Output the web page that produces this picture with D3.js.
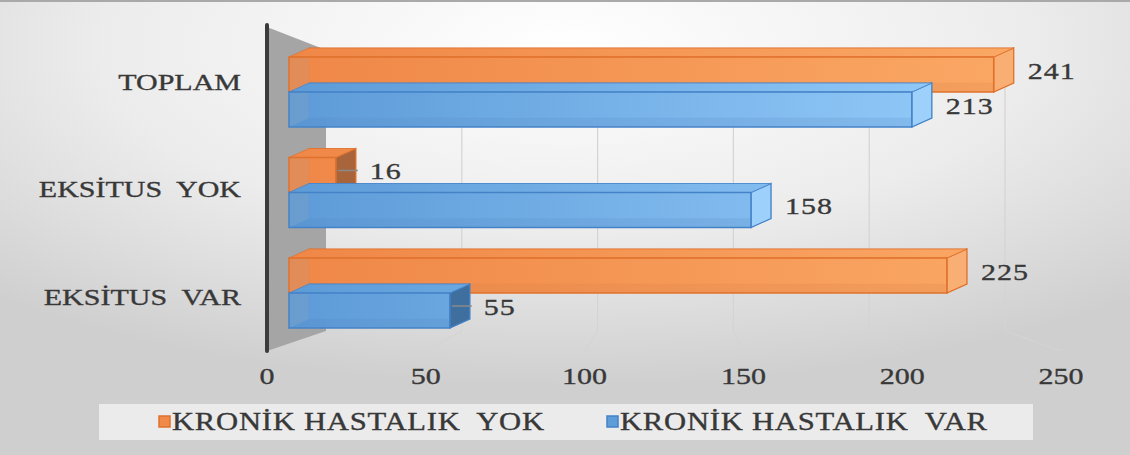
<!DOCTYPE html>
<html>
<head>
<meta charset="utf-8">
<script src="https://cdn.jsdelivr.net/npm/d3@7"></script>
<style>
  html, body { margin: 0; padding: 0; background: #fff; }
  svg { display: block; }
  text { font-family: "Liberation Serif", "Times New Roman", serif; fill: #383838; stroke: #383838; stroke-width: 0.35; white-space: pre; }
</style>
</head>
<body>
<svg id="chart" width="1130" height="455"></svg>
<script>
// Categories (top to bottom) and the two series
const categories = ["TOPLAM", "EKSİTUS  YOK", "EKSİTUS  VAR"];
const seriesNames = ["KRONİK HASTALIK  YOK", "KRONİK HASTALIK  VAR"];
const kronikYok = [241, 16, 225];
const kronikVar = [213, 158, 55];
const tickValues = [0, 50, 100, 150, 200, 250];

const W = 1130, H = 455;
const svg = d3.select("#chart");
const defs = svg.append("defs");

// background: soft radial light-grey gradient
const bg = defs.append("radialGradient").attr("id", "bg")
  .attr("cx", "50%").attr("cy", "10%").attr("r", "75%");
bg.append("stop").attr("offset", "0%").attr("stop-color", "#ffffff");
bg.append("stop").attr("offset", "55%").attr("stop-color", "#ececec");
bg.append("stop").attr("offset", "100%").attr("stop-color", "#cfcfcf");
svg.append("rect").attr("width", W).attr("height", H).attr("fill", "url(#bg)");
svg.append("rect").attr("x", 0).attr("y", 0).attr("width", W).attr("height", 2).attr("fill", "#a9a9a9");

// scales: front floor edge, back wall, bar faces
const xFront = d3.scaleLinear().domain([0, 250]).range([267, 1061]);
const xBack = d3.scaleLinear().domain([0, 250]).range([326, 1005]);
const xBar = d3.scaleLinear().domain([0, 250]).range([289, 1020]);
const yCat = d3.scalePoint().domain(categories).range([92, 293]);
const yLabel = d3.scalePoint().domain(categories).range([82, 297]);
const barH = 35;
const depth = { dx: 20, dy: -9 };

const wall = { top: 50, bottom: 331, frontTop: 27, frontBottom: 351 };

// back wall gridlines and floor lines
const grid = svg.append("g");
grid.selectAll("line.back").data(tickValues.slice(1)).join("line")
  .attr("x1", d => xBack(d)).attr("x2", d => xBack(d))
  .attr("y1", wall.top).attr("y2", wall.bottom)
  .attr("stroke", "#d4d4d4").attr("stroke-width", 1.2);
grid.selectAll("line.floor").data(tickValues.slice(1)).join("line")
  .attr("x1", d => xFront(d)).attr("x2", d => xBack(d))
  .attr("y1", wall.frontBottom).attr("y2", wall.bottom)
  .attr("stroke", "#d4d4d4").attr("stroke-width", 1.2);

// left side wall
svg.append("path")
  .attr("d", `M${xFront(0)},${wall.frontTop} L${xBack(0)},${wall.top} L${xBack(0)},${wall.bottom} L${xFront(0)},${wall.frontBottom}Z`)
  .attr("fill", "#a5a5a5");
svg.append("line")
  .attr("x1", xFront(0)).attr("x2", xFront(0))
  .attr("y1", wall.frontTop - 2).attr("y2", wall.frontBottom)
  .attr("stroke", "#3b3b3b").attr("stroke-width", 4).attr("stroke-linecap", "round");

// gradients for the bar faces
function grad(id, c0, c1) {
  const g = defs.append("linearGradient").attr("id", id)
    .attr("gradientUnits", "userSpaceOnUse")
    .attr("x1", xBar(0)).attr("x2", xBar(250)).attr("y1", 0).attr("y2", 0);
  g.append("stop").attr("offset", "0%").attr("stop-color", c0);
  g.append("stop").attr("offset", "100%").attr("stop-color", c1);
}
grad("gOrange", "#ef8747", "#fba865");
grad("gBlue", "#5d9bd8", "#96cdfb");

const styles = [
  { fill: "url(#gOrange)", edge: "#e0712c", dark: "#a8653c", light: "#f9ae74", bottom: "#cf6e31", top: "url(#gOrange)", marker: "#f08a48" },
  { fill: "url(#gBlue)", edge: "#4482c8", dark: "#3f6f9f", light: "#9dd0fa", bottom: "#4279ba", top: "url(#gBlue)", marker: "#5f9dd8" }
];

const rows = categories.map((c, i) => ({ cat: c, values: [kronikYok[i], kronikVar[i]] }));
const bars = [];
rows.forEach(r => r.values.forEach((v, s) => {
  const yT = s === 0 ? yCat(r.cat) - barH : yCat(r.cat);
  bars.push({ cat: r.cat, s, v, yT, yB: yT + barH, x0: xBar(0), x1: xBar(v) });
}));

const { dx, dy } = depth;
const gBars = svg.append("g");
bars.forEach(b => {
  const st = styles[b.s];
  const g = gBars.append("g");
  // back face
  g.append("rect").attr("x", b.x0 + dx).attr("y", b.yT + dy)
    .attr("width", b.x1 - b.x0).attr("height", barH)
    .attr("fill", st.fill).attr("stroke", st.edge).attr("stroke-opacity", 0.6).attr("stroke-width", 1);
  // bottom face
  g.append("path")
    .attr("d", `M${b.x0},${b.yB} L${b.x0 + dx},${b.yB + dy} L${b.x1 + dx},${b.yB + dy} L${b.x1},${b.yB}Z`)
    .attr("fill", st.bottom).attr("opacity", 0.9);
  // right end face: darker where the short bars turn away from the light
  g.append("path")
    .attr("d", `M${b.x1},${b.yT} L${b.x1 + dx},${b.yT + dy} L${b.x1 + dx},${b.yB + dy} L${b.x1},${b.yB}Z`)
    .attr("fill", b.v < 100 ? st.dark : st.light)
    .attr("stroke", st.edge).attr("stroke-width", 1.2);
  // top face
  g.append("path")
    .attr("d", `M${b.x0},${b.yT} L${b.x0 + dx},${b.yT + dy} L${b.x1 + dx},${b.yT + dy} L${b.x1},${b.yT}Z`)
    .attr("fill", st.top).attr("stroke", st.edge).attr("stroke-opacity", 0.7).attr("stroke-width", 1);
  // translucent front face
  g.append("rect").attr("x", b.x0).attr("y", b.yT)
    .attr("width", b.x1 - b.x0).attr("height", barH)
    .attr("fill", st.fill).attr("fill-opacity", 0.82)
    .attr("stroke", st.edge).attr("stroke-width", 1.5);
  // leader across the end face for short bars
  if (b.v < 100) {
    g.append("line")
      .attr("x1", b.x1 + 2).attr("x2", b.x1 + dx + 2)
      .attr("y1", (b.yT + b.yB) / 2 + dy / 2).attr("y2", (b.yT + b.yB) / 2 + dy / 2)
      .attr("stroke", "#8a8a8a").attr("stroke-width", 1.5);
  }
});

// horizontally widened serif text
const SX = 1.25;
function label(sel, x, y, str, size, anchor, spacing) {
  return sel.append("text")
    .attr("transform", `translate(${x},${y}) scale(${SX},1)`)
    .attr("text-anchor", anchor || "start")
    .attr("dominant-baseline", "central")
    .attr("font-size", size)
    .attr("letter-spacing", spacing || 0)
    .text(str);
}

// value labels
bars.forEach(b => {
  label(svg, b.x1 + dx + 14, (b.yT + b.yB) / 2 + dy / 2 + 1, b.v, 24, "start", 0.8);
});

// category labels
categories.forEach(c => label(svg, 241, yLabel(c), c, 24, "end", 0));

// value axis labels
tickValues.forEach(t => label(svg, xFront(t), 376, t, 24, "middle", 0));

// legend
svg.append("rect").attr("x", 99).attr("y", 404).attr("width", 934).attr("height", 36).attr("fill", "#ebebeb");
const legendX = [159, 607];
seriesNames.forEach((n, i) => {
  const st = styles[i];
  svg.append("rect").attr("x", legendX[i]).attr("y", 416).attr("width", 11).attr("height", 11)
    .attr("fill", st.marker).attr("stroke", st.edge).attr("stroke-width", 1.5);
  label(svg, legendX[i] + 13, 422, n, 24.5, "start", 0.6);
});
</script>
</body>
</html>
